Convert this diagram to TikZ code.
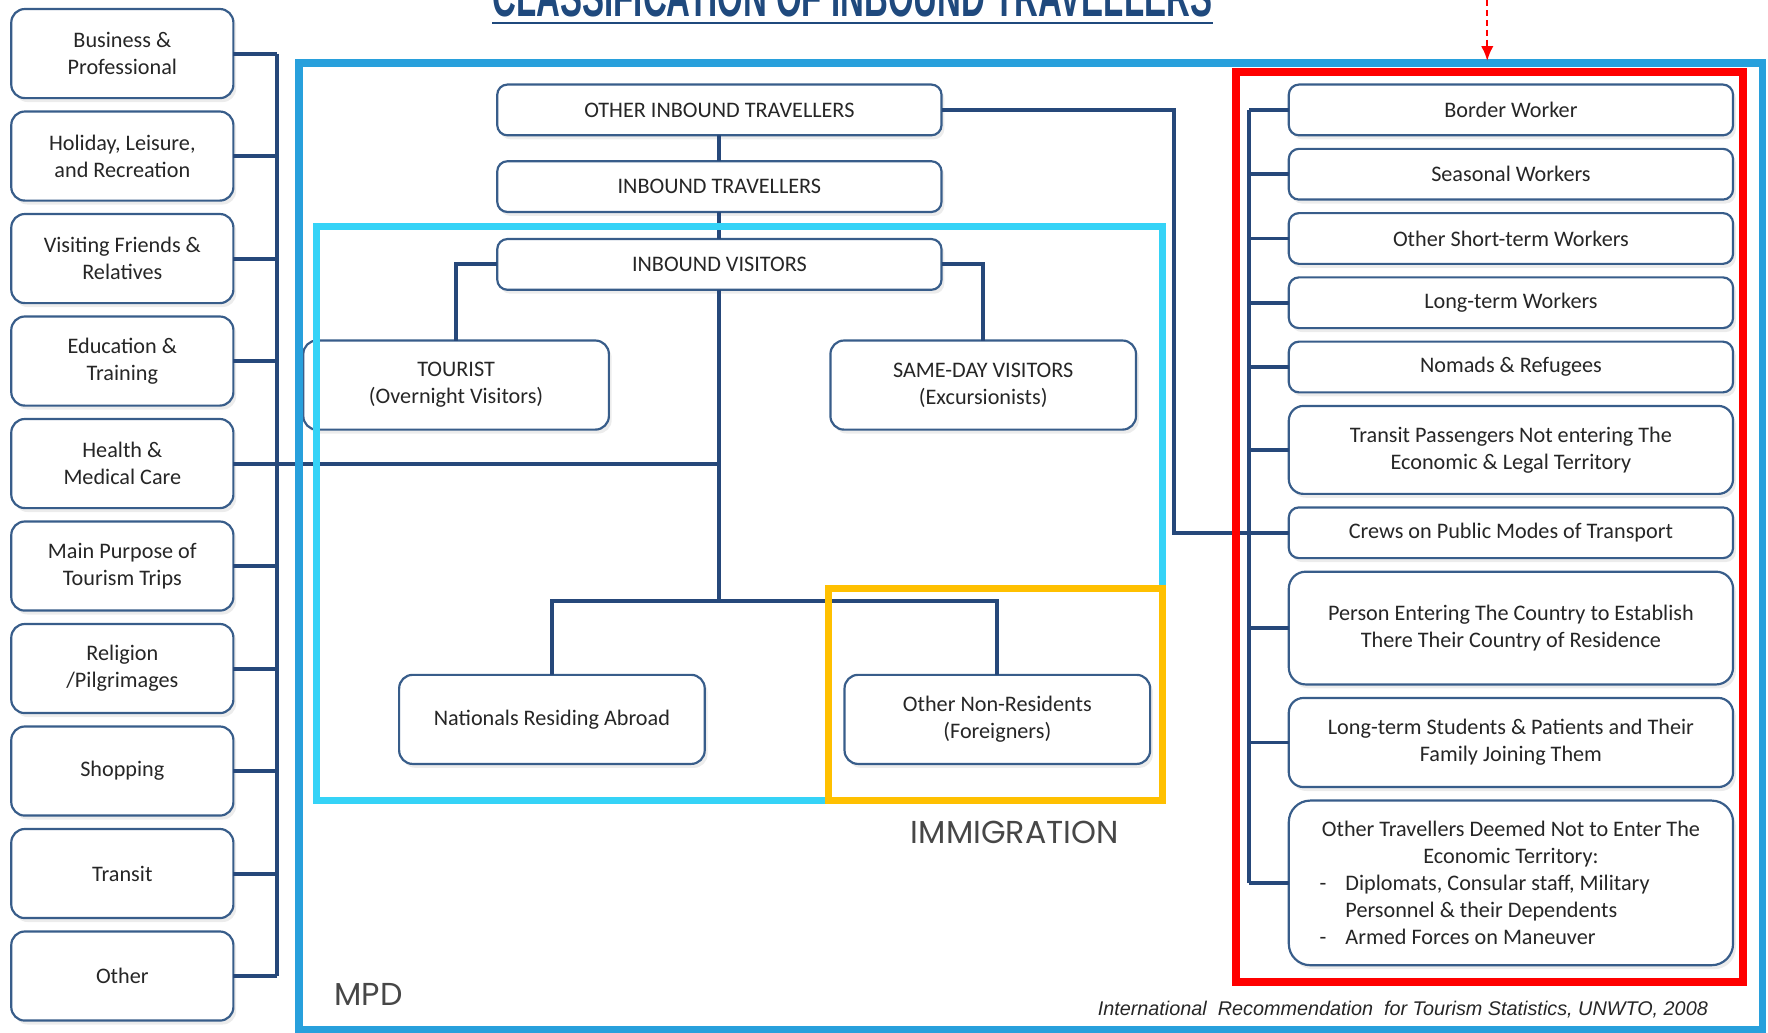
\documentclass[tikz,border=0pt]{standalone}
\usepackage{fontspec}
\setmainfont{Carlito}
\newfontfamily\gothicfont{Poppins}
\newfontfamily\arialfont{Liberation Sans}
\usepackage{graphicx}
\usepackage{xcolor}
\usepackage{tikz}
\usetikzlibrary{positioning, shadows, arrows.meta}

\definecolor{boxline}{RGB}{56,93,138}
\definecolor{linkline}{RGB}{38,72,122}
\definecolor{titleblue}{RGB}{31,73,125}
\definecolor{mpdblue}{RGB}{40,160,220}
\definecolor{visitcyan}{RGB}{53,211,247}
\definecolor{immiorange}{RGB}{255,192,0}
\definecolor{textgrey}{RGB}{38,38,38}

\begin{document}
\begin{tikzpicture}[>=latex, x=0.2mm, y=-0.2mm,
    basebox/.style={draw=boxline, line width=1.1pt, fill=white, rounded corners=2.4mm,
        outer sep=0pt, align=center, text=textgrey, font=\fontsize{11.2}{13.6}\selectfont,
        drop shadow={opacity=0.15, shadow xshift=0.5mm, shadow yshift=-0.7mm}},
    purposebox/.style={basebox, minimum width=39.4mm, minimum height=15.8mm},
    flowbox/.style={basebox, rounded corners=1.8mm, minimum width=78.8mm, minimum height=9mm},
    groupbox/.style={basebox, minimum width=54.2mm, minimum height=15.8mm},
    otherbox/.style={basebox, rounded corners=1.8mm, minimum width=78.8mm, minimum height=9mm},
    link/.style={draw=linkline, line width=2pt},
    bigfont/.style={font=\gothicfont\fontsize{16}{19}\selectfont, text=textgrey!85}]
    \useasboundingbox (0,0) rectangle (1568,916);

    % Tiêu đề
    \node[anchor=base, inner sep=0pt, text=titleblue, font=\arialfont\bfseries] (title) at (756,15)
        {\resizebox{127.6mm}{7mm}{CLASSIFICATION OF INBOUND TRAVELLERS}};
    \draw[titleblue, line width=1.2pt] ([yshift=-1.1mm]title.base west) -- ([yshift=-1.1mm]title.base east);

    % Cột mục đích chuyến đi
    \node[purposebox] (biz) at (108.5,47.5) {Business \&\\Professional};
    \node[purposebox, below=2.38mm of biz] (hol) {Holiday, Leisure,\\and Recreation};
    \node[purposebox, below=2.38mm of hol] (vfr) {Visiting Friends \&\\Relatives};
    \node[purposebox, below=2.38mm of vfr] (edu) {Education \&\\Training};
    \node[purposebox, below=2.38mm of edu] (hea) {Health \&\\Medical Care};
    \node[purposebox, below=2.38mm of hea] (mpt) {Main Purpose of\\Tourism Trips};
    \node[purposebox, below=2.38mm of mpt] (rel) {Religion\\/Pilgrimages};
    \node[purposebox, below=2.38mm of rel] (sho) {Shopping};
    \node[purposebox, below=2.38mm of sho] (tra) {Transit};
    \node[purposebox, below=2.38mm of tra] (oth) {Other};

    % Sơ đồ giữa
    \node[flowbox] (oit) at (638,97.5) {OTHER INBOUND TRAVELLERS};
    \node[flowbox, below=4.6mm of oit] (itr) {INBOUND TRAVELLERS};
    \node[flowbox, below=4.8mm of itr] (ivi) {INBOUND VISITORS};
    \node[groupbox] (tou) at (404.5,341.5) {TOURIST\\(Overnight Visitors)};
    \node[groupbox] (sdv) at (872,341.5) {SAME-DAY VISITORS\\(Excursionists)};
    \node[groupbox] (nra) at (489.5,638) {Nationals Residing Abroad};
    \node[groupbox] (onr) at (884.5,638) {Other Non-Residents\\(Foreigners)};

    % Cột bên phải
    \node[otherbox] (bwk) at (1340,97.5) {Border Worker};
    \node[otherbox, below=2.4mm of bwk] (swk) {Seasonal Workers};
    \node[otherbox, below=2.4mm of swk] (ost) {Other Short-term Workers};
    \node[otherbox, below=2.4mm of ost] (ltw) {Long-term Workers};
    \node[otherbox, below=2.4mm of ltw] (nom) {Nomads \& Refugees};
    \node[otherbox, rounded corners=2.6mm, minimum height=15.6mm, below=2.4mm of nom] (tpa)
        {Transit Passengers Not entering The\\Economic \& Legal Territory};
    \node[otherbox, below=2.4mm of tpa] (crw) {Crews on Public Modes of Transport};
    \node[otherbox, rounded corners=3mm, minimum height=20mm, below=2.4mm of crw] (pec)
        {Person Entering The Country to Establish\\There Their Country of Residence};
    \node[otherbox, rounded corners=2.6mm, minimum height=15.8mm, below=2.4mm of pec] (lts)
        {Long-term Students \& Patients and Their\\Family Joining Them};
    \node[otherbox, rounded corners=3.8mm, minimum height=29.2mm, below=2.4mm of lts] (otd)
        {Other Travellers Deemed Not to Enter The\\Economic Territory:\\
        \makebox[193pt][l]{\makebox[13pt][l]{-}Diplomats, Consular staff, Military}\\
        \makebox[193pt][l]{\hspace*{13pt}Personnel \& their Dependents}\\
        \makebox[193pt][l]{\makebox[13pt][l]{-}Armed Forces on Maneuver}};

    % Đường nối
    \coordinate (lbus) at (246,0);
    \coordinate (rbus) at (1108,0);
    \coordinate (elbow) at (1041,0);
    \coordinate (fork) at (638,533);
    \draw[link] (biz.east -| lbus) -- (oth.east -| lbus);
    \draw[link] (biz.east) -- (biz.east -| lbus) (hol.east) -- (hol.east -| lbus)
        (vfr.east) -- (vfr.east -| lbus) (edu.east) -- (edu.east -| lbus)
        (mpt.east) -- (mpt.east -| lbus) (rel.east) -- (rel.east -| lbus)
        (sho.east) -- (sho.east -| lbus) (tra.east) -- (tra.east -| lbus)
        (oth.east) -- (oth.east -| lbus);
    \draw[link] (hea.east) -- (hea.east -| ivi.south);
    \draw[link] (oit.south) -- (itr.north);
    \draw[link] (itr.south) -- (ivi.north);
    \draw[link] (ivi.west) -| (tou.north);
    \draw[link] (ivi.east) -| (sdv.north);
    \draw[link] (ivi.south) -- (fork);
    \draw[link] (fork) -| (nra.north);
    \draw[link] (fork) -| (onr.north);
    \draw[link] (oit.east) -- (oit.east -| elbow) |- (crw.west);
    \draw[link] (bwk.west -| rbus) -- (otd.west -| rbus);
    \draw[link] (bwk.west) -- (bwk.west -| rbus) (swk.west) -- (swk.west -| rbus)
        (ost.west) -- (ost.west -| rbus) (ltw.west) -- (ltw.west -| rbus)
        (nom.west) -- (nom.west -| rbus) (tpa.west) -- (tpa.west -| rbus)
        (pec.west) -- (pec.west -| rbus) (lts.west) -- (lts.west -| rbus)
        (otd.west) -- (otd.west -| rbus);

    % Các khung màu
    \draw[mpdblue, line width=3.8pt] (265,56) rectangle (1563,913);
    \draw[visitcyan, line width=3.4pt] (281,201) rectangle (1031,710);
    \draw[immiorange, line width=3.6pt] (735,522) rectangle (1031,710);
    \draw[red, line width=3.8pt] (1096,64) rectangle (1546,871);

    % Mũi tên đỏ
    \coordinate (arrtop) at (1319,0);
    \coordinate (arrtip) at (1319,54);
    \draw[-{Latex[length=2.6mm, width=2.2mm]}, red, line width=1.1pt, dash pattern=on 3pt off 2pt] (arrtop) -- (arrtip);

    % Nhãn
    \node[bigfont] (immi) at (900,738) {IMMIGRATION};
    \node[bigfont] (mpd) at (327,882) {MPD};
    \node[anchor=east, inner sep=0pt, text=textgrey, font=\arialfont\itshape\fontsize{10}{12}\selectfont] (src) at (1515,895)
        {International\ \ Recommendation\ \ for Tourism Statistics, UNWTO, 2008};
\end{tikzpicture}
\end{document}
